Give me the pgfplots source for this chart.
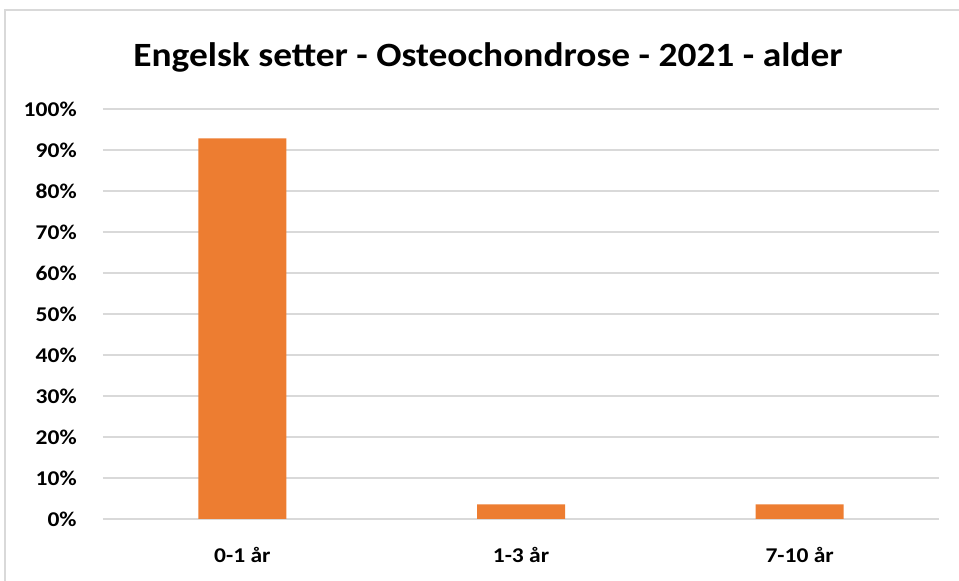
\documentclass[border=0pt]{standalone}
\usepackage{pgfplots}
\pgfplotsset{compat=1.18}
\usepackage{fontspec}
\setmainfont{Carlito}
\definecolor{barorange}{HTML}{ED7D31}
\definecolor{gridgray}{HTML}{D9D9D9}
\begin{document}
\begin{tikzpicture}[x=1pt,y=1pt]
\path[use as bounding box] (0,0) rectangle (959,581);
\draw[gridgray,line width=1.2pt] (5,-2) -- (5,571) -- (961,571);
\node[font=\fontsize{34}{40}\selectfont\bfseries, xscale=1.1, anchor=base] at (488,514) {Engelsk setter - Osteochondrose - 2021 - alder};
\begin{axis}[
  at={(103pt,62pt)}, anchor=south west,
  scale only axis, width=836pt, height=410pt,
  ymin=0, ymax=100,
  xmin=-0.5, xmax=2.5,
  xtick=data, xticklabels={0-1 år,1-3 år,7-10 år},
  ytick={0,10,...,100},
  yticklabel={\pgfmathprintnumber{\tick}\%},
  /pgf/number format/assume math mode=true,
  ymajorgrids, grid style={gridgray,line width=1.2pt},
  axis line style={draw=none},
  tick style={draw=none},
  axis x line*=bottom, axis y line*=left,
  ticklabel style={font=\fontsize{21}{25}\selectfont\bfseries, xscale=1.12},
  xticklabel style={yshift=-20pt},
  yticklabel style={xshift=-20pt},
  ybar, bar width=88pt,
]
\draw[gridgray,line width=1.2pt] (axis cs:-0.5,0) -- (axis cs:2.5,0);
\addplot[fill=barorange,draw=none] coordinates {(0,92.86) (1,3.57) (2,3.57)};
\end{axis}
\end{tikzpicture}
\end{document}
